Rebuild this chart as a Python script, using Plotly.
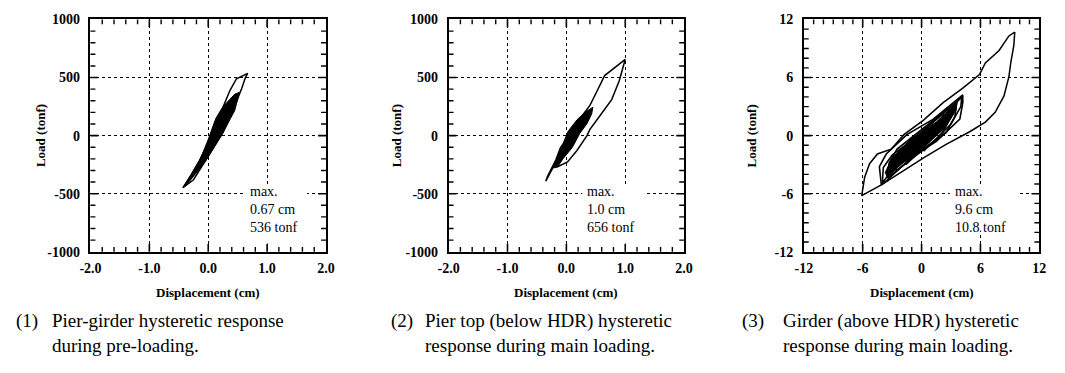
import plotly.graph_objects as go

# ---------------- data ----------------
# Panel 1: pier-girder, pre-loading (cm, tonf)
p1_outer_disp = [-0.43, -0.30, -0.15, 0.00, 0.08, 0.22, 0.37, 0.48, 0.67, 0.63, 0.57, 0.50, 0.40, 0.25, 0.12, -0.05, -0.25, -0.43]
p1_outer_load = [-448, -350, -215, -60, 66, 207, 390, 490, 536, 498, 407, 315, 191, 25, -83, -224, -380, -448]
p1_band_disp = [-0.43, -0.13, 0.00, 0.13, 0.25, 0.45, 0.53, 0.45, 0.25, 0.12, -0.05, -0.38, -0.43]
p1_band_load = [-448, -199, -33, 149, 249, 357, 373, 216, 25, -83, -224, -432, -448]

# Panel 2: pier top (below HDR), main loading
p2_outer_disp = [1.00, 0.65, 0.53, 0.40, 0.23, 0.10, -0.10, -0.18, -0.32, -0.35, -0.23, -0.15, 0.02, 0.18, 0.35, 0.40, 0.52, 0.77, 0.90, 1.00]
p2_outer_load = [657, 517, 393, 260, 145, 37, -103, -211, -351, -393, -277, -268, -227, -128, 0, 54, 136, 310, 475, 657]
p2_band_disp = [-0.22, -0.10, 0.03, 0.18, 0.32, 0.45, 0.43, 0.35, 0.23, 0.10, -0.05, -0.15, -0.22]
p2_band_load = [-269, -128, 37, 136, 202, 244, 186, 103, 21, -103, -194, -269, -269]

# Panel 3: girder (above HDR), main loading
p3_outer_disp = [9.5, 8.9, 7.9, 6.5, 5.9, 4.2, 2.2, 0.2, -1.8, -3.1, -4.5, -5.3, -5.8, -6.1, -4.1, -1.8, 0.2, 2.5, 4.9, 6.5, 7.5, 8.4, 8.9, 9.1, 9.4, 9.5]
p3_outer_load = [10.7, 10.3, 8.8, 7.5, 6.3, 4.9, 3.4, 1.6, 0.1, -1.4, -1.9, -2.9, -4.3, -6.2, -5.1, -3.6, -2.3, -0.9, 0.4, 1.4, 2.4, 4.1, 6.1, 7.6, 9.3, 10.7]
p3_core_disp = [-3.7, -3.0, -1.0, 1.5, 3.6, 3.5, 2.4, 0.0, -2.0, -3.5, -3.7]
p3_core_load = [-3.8, -2.3, -0.3, 1.4, 3.4, 2.6, 0.8, -1.4, -2.9, -4.3, -3.8]
p3_loopA_disp = [-4.1, -4.3, -3.6, -1.5, 1.2, 4.2, 4.2, 3.9, 1.5, -1.1, -3.5, -4.1]
p3_loopA_load = [-5.1, -3.2, -1.9, 0.1, 1.7, 4.2, 3.4, 1.7, -0.6, -2.3, -4.6, -5.1]
p3_loopB_disp = [-3.5, -3.3, -2.5, 0.0, 3.2, 3.6, 3.4, 2.5, 0.0, -2.8, -3.5]
p3_loopB_load = [-4.4, -2.8, -1.4, 0.6, 3.2, 3.5, 2.0, 0.3, -1.6, -3.9, -4.4]
p3_loopC_disp = [-2.6, -2.4, -1.5, 1.0, 2.8, 2.9, 2.0, -0.5, -2.6]
p3_loopC_load = [-3.7, -2.0, -0.8, 1.2, 2.8, 1.8, 0.0, -1.9, -3.7]
p3_loopD_disp = [-1.6, -1.3, 0.5, 2.2, 2.1, 0.8, -1.6]
p3_loopD_load = [-3.0, -1.2, 0.8, 2.4, 1.0, -0.6, -3.0]
p3_loopG_disp = [-4.0, -3.9, -3.0, -1.0, 0.5, 0.3, -1.5, -3.2, -4.0]
p3_loopG_load = [-4.9, -3.3, -2.0, -0.5, 0.8, -0.3, -1.8, -3.8, -4.9]
p3_loopI_disp = [0.2, 0.5, 2.0, 4.1, 4.0, 3.0, 0.2]
p3_loopI_load = [-1.6, 0.0, 1.8, 4.0, 3.0, 1.2, -1.6]

# tick values / labels
p12_x_ticks = [-2, -1, 0, 1, 2]
p12_x_labels = ["-2.0", "-1.0", "0.0", "1.0", "2.0"]
p12_y_ticks = [-1000, -500, 0, 500, 1000]
p12_y_labels = ["-1000", "-500", "0", "500", "1000"]
p3_ticks = [-12, -6, 0, 6, 12]
p3_labels = ["-12", "-6", "0", "6", "12"]

max_notes = ["max.<br>0.67 cm<br>536 tonf", "max.<br>1.0 cm<br>656 tonf", "max.<br>9.6 cm<br>10.8 tonf"]
captions = [
    ("(1)", "Pier-girder hysteretic response<br>during pre-loading."),
    ("(2)", "Pier top (below HDR) hysteretic<br>response during main loading."),
    ("(3)", "Girder (above HDR) hysteretic<br>response during main loading."),
]

# ---------------- layout helpers ----------------
W, H = 1065, 373
SERIF = "Liberation Serif, Times New Roman, serif"


def px(x):
    return x / W


def py(y):
    return 1 - y / H


panel_left = [81, 446, 808]
panel_w = 240
panel_h = 242
top_px, bot_px = 13, 255

panel_specs = [
    dict(xr=[-2, 2], xt=p12_x_ticks, xl=p12_x_labels, xm=0.2,
         yr=[-1000, 1000], yt=p12_y_ticks, yl=p12_y_labels, ym=100),
    dict(xr=[-2, 2], xt=p12_x_ticks, xl=p12_x_labels, xm=0.2,
         yr=[-1000, 1000], yt=p12_y_ticks, yl=p12_y_labels, ym=100),
    dict(xr=[-12, 12], xt=p3_ticks, xl=p3_labels, xm=1,
         yr=[-12, 12], yt=p3_ticks, yl=p3_labels, ym=1),
]

fig = go.Figure()


def aid(letter, n):
    return letter if n == 1 else f"{letter}{n}"


def add_line(xs, ys, n, width=1.5):
    fig.add_trace(go.Scatter(x=xs, y=ys, mode="lines", line=dict(color="black", width=width),
                             xaxis=aid("x", n), yaxis=aid("y", n), hoverinfo="skip", showlegend=False))


def add_fill(xs, ys, n):
    fig.add_trace(go.Scatter(x=xs, y=ys, mode="lines", fill="toself", fillcolor="black",
                             line=dict(color="black", width=1),
                             xaxis=aid("x", n), yaxis=aid("y", n), hoverinfo="skip", showlegend=False))


add_fill(p1_band_disp, p1_band_load, 1)
add_line(p1_outer_disp, p1_outer_load, 1)
add_fill(p2_band_disp, p2_band_load, 2)
add_line(p2_outer_disp, p2_outer_load, 2)
add_fill(p3_core_disp, p3_core_load, 3)
add_line(p3_outer_disp, p3_outer_load, 3)
for xs, ys in [(p3_loopA_disp, p3_loopA_load), (p3_loopB_disp, p3_loopB_load),
               (p3_loopC_disp, p3_loopC_load), (p3_loopD_disp, p3_loopD_load),
               (p3_loopG_disp, p3_loopG_load), (p3_loopI_disp, p3_loopI_load)]:
    add_line(xs, ys, 3, width=1.6)

tickfont = dict(family=SERIF, size=14, color="black", weight="bold")

layout = dict(width=W, height=H, margin=dict(l=0, r=0, t=0, b=0),
              paper_bgcolor="white", plot_bgcolor="white", showlegend=False)

for i, sp in enumerate(panel_specs):
    n = i + 1
    main_x, main_y = aid("x", n), aid("y", n)
    frame = dict(showline=True, linecolor="black", linewidth=1.5, mirror=True, ticks="",
                 showgrid=True, gridcolor="black", griddash="dot", gridwidth=1.2,
                 zeroline=False, tickfont=tickfont, fixedrange=True, tickmode="array")
    layout["xaxis" if n == 1 else f"xaxis{n}"] = dict(
        frame, domain=[px(panel_left[i]), px(panel_left[i] + panel_w)], anchor=main_y,
        range=sp["xr"], tickvals=sp["xt"], ticktext=sp["xl"], ticklabelstandoff=3)
    layout["yaxis" if n == 1 else f"yaxis{n}"] = dict(
        frame, domain=[py(bot_px), py(top_px)], anchor=main_x,
        range=sp["yr"], tickvals=sp["yt"], ticktext=sp["yl"], ticklabelstandoff=6)

fig.update_layout(**layout)

# inward tick marks on all four frame edges (major at tick values, minor at minor spacing)
MAJ, MIN = 8, 5
for i, sp in enumerate(panel_specs):
    n = i + 1
    xref, yref = aid("x", n), aid("y", n)
    xdom, ydom = f"{xref} domain", f"{yref} domain"
    nx = int(round((sp["xr"][1] - sp["xr"][0]) / sp["xm"]))
    ny = int(round((sp["yr"][1] - sp["yr"][0]) / sp["ym"]))
    for k in range(1, nx):
        v = sp["xr"][0] + k * sp["xm"]
        major = any(abs(v - t) < 1e-9 for t in sp["xt"])
        f = (MAJ if major else MIN) / panel_h
        for y0, y1 in ((0, f), (1 - f, 1)):
            fig.add_shape(type="line", xref=xref, yref=ydom, x0=v, x1=v, y0=y0, y1=y1,
                          line=dict(color="black", width=1.6 if major else 1.4), layer="above")
    for k in range(1, ny):
        v = sp["yr"][0] + k * sp["ym"]
        major = any(abs(v - t) < 1e-9 for t in sp["yt"])
        f = (MAJ if major else MIN) / panel_w
        for x0, x1 in ((0, f), (1 - f, 1)):
            fig.add_shape(type="line", xref=xdom, yref=yref, x0=x0, x1=x1, y0=v, y1=v,
                          line=dict(color="black", width=1.6 if major else 1.4), layer="above")

# white boxes behind the "max." notes
note_boxes = [(0.65, 0.92, 0.035, 0.29), (0.567, 0.84, 0.035, 0.29), (0.62, 0.917, 0.09, 0.29)]
note_x = [0.667, 0.579, 0.633]
for i in range(3):
    n = i + 1
    xr = "x domain" if n == 1 else f"x{n} domain"
    yr = "y domain" if n == 1 else f"y{n} domain"
    x0, x1, y0, y1 = note_boxes[i]
    fig.add_shape(type="rect", xref=xr, yref=yr, x0=x0, x1=x1, y0=y0, y1=y1,
                  fillcolor="white", line=dict(width=0), layer="above")
    fig.add_annotation(xref=xr, yref=yr, x=note_x[i], y=0.30, xanchor="left", yanchor="top",
                       align="left", showarrow=False, text=max_notes[i],
                       font=dict(family=SERIF, size=14, color="black"))

# axis titles
title_font = dict(family=SERIF, size=13, color="black", weight="bold")
ytitle_x = [30, 393, 755]
for i in range(3):
    cx = panel_left[i] + panel_w / 2
    fig.add_annotation(xref="paper", yref="paper", x=px(cx), y=py(297), xanchor="center", yanchor="middle",
                       showarrow=False, text="Displacement (cm)", font=title_font)
    fig.add_annotation(xref="paper", yref="paper", x=px(ytitle_x[i]), y=py(134), xanchor="center",
                       yanchor="middle", showarrow=False, text="Load (tonf)", textangle=-90, font=title_font)

# captions
cap_font = dict(family=SERIF, size=19, color="black")
num_x = [3, 385, 743]
text_x = [40, 420, 785]
for i in range(3):
    num, txt = captions[i]
    fig.add_annotation(xref="paper", yref="paper", x=px(num_x[i]), y=py(327), xanchor="left", yanchor="middle",
                       showarrow=False, text=num, font=cap_font)
    fig.add_annotation(xref="paper", yref="paper", x=px(text_x[i]), y=py(339.5), xanchor="left", yanchor="middle",
                       align="left", showarrow=False, text=txt, font=cap_font)

fig.write_html("out.html", config={"displayModeBar": False},
               post_script="document.body.style.margin='0';")
